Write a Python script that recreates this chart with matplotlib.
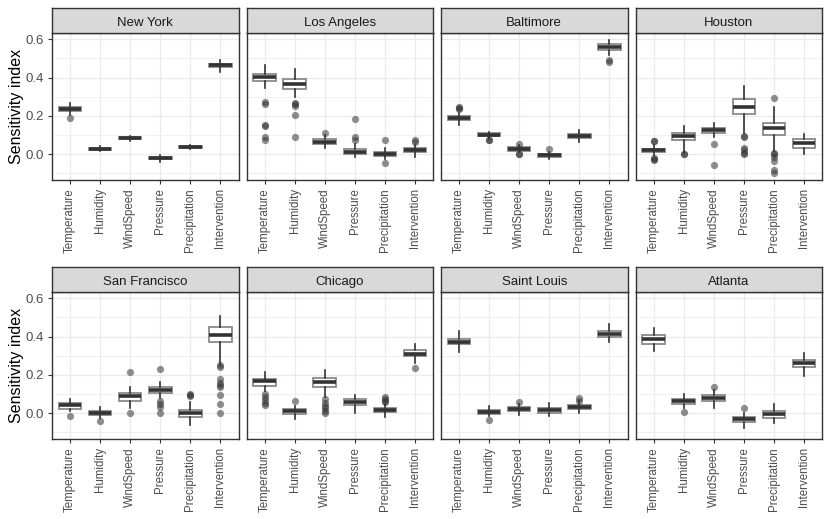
import matplotlib
matplotlib.use("Agg")
import matplotlib.pyplot as plt
from matplotlib.ticker import MultipleLocator, FuncFormatter

cities = ["New York", "Los Angeles", "Baltimore", "Houston",
          "San Francisco", "Chicago", "Saint Louis", "Atlanta"]
variables = ["Temperature", "Humidity", "WindSpeed", "Pressure",
             "Precipitation", "Intervention"]

med = [
    [0.235, 0.028, 0.082, -0.021, 0.036, 0.464],
    [0.405, 0.366, 0.065, 0.012, 0.002, 0.021],
    [0.188, 0.101, 0.028, -0.007, 0.096, 0.560],
    [0.019, 0.092, 0.124, 0.248, 0.134, 0.056],
    [0.042, 0.000, 0.087, 0.122, -0.002, 0.409],
    [0.166, 0.009, 0.161, 0.058, 0.017, 0.311],
    [0.373, 0.005, 0.021, 0.014, 0.031, 0.413],
    [0.385, 0.063, 0.080, -0.033, -0.007, 0.259],
]
q1 = [
    [0.225, 0.022, 0.077, -0.027, 0.031, 0.455],
    [0.384, 0.340, 0.050, 0.000, -0.009, 0.010],
    [0.178, 0.092, 0.017, -0.017, 0.085, 0.544],
    [0.009, 0.072, 0.112, 0.209, 0.099, 0.030],
    [0.023, -0.010, 0.063, 0.107, -0.019, 0.373],
    [0.142, -0.007, 0.138, 0.042, 0.007, 0.296],
    [0.359, -0.005, 0.010, 0.002, 0.021, 0.399],
    [0.359, 0.049, 0.063, -0.049, -0.026, 0.243],
]
q3 = [
    [0.245, 0.034, 0.087, -0.015, 0.041, 0.472],
    [0.420, 0.390, 0.077, 0.026, 0.012, 0.031],
    [0.199, 0.110, 0.038, 0.002, 0.105, 0.576],
    [0.028, 0.112, 0.134, 0.286, 0.160, 0.077],
    [0.054, 0.010, 0.107, 0.136, 0.017, 0.451],
    [0.180, 0.019, 0.185, 0.072, 0.028, 0.332],
    [0.387, 0.016, 0.031, 0.024, 0.042, 0.429],
    [0.408, 0.075, 0.094, -0.021, 0.010, 0.278],
]
whislo = [
    [0.204, 0.015, 0.070, -0.040, 0.025, 0.430],
    [0.344, 0.300, 0.030, -0.017, -0.028, -0.014],
    [0.152, 0.080, 0.008, -0.028, 0.061, 0.518],
    [-0.005, 0.003, 0.091, 0.108, 0.016, 0.000],
    [0.010, -0.025, 0.028, 0.077, -0.063, 0.250],
    [0.115, -0.030, 0.086, 0.002, -0.019, 0.264],
    [0.320, -0.016, -0.009, -0.016, 0.002, 0.369],
    [0.322, 0.028, 0.028, -0.080, -0.051, 0.191],
]
whishi = [
    [0.268, 0.040, 0.095, -0.005, 0.046, 0.490],
    [0.464, 0.445, 0.100, 0.052, 0.030, 0.045],
    [0.213, 0.117, 0.045, 0.010, 0.126, 0.597],
    [0.047, 0.147, 0.164, 0.356, 0.244, 0.103],
    [0.075, 0.033, 0.136, 0.164, 0.058, 0.509],
    [0.215, 0.037, 0.226, 0.093, 0.045, 0.360],
    [0.427, 0.037, 0.049, 0.051, 0.063, 0.464],
    [0.444, 0.100, 0.121, 0.002, 0.049, 0.313],
]
fliers = [
    [[0.187], [], [], [], [], []],
    [[0.274, 0.262, 0.150, 0.147, 0.087, 0.073],
     [0.269, 0.260, 0.250, 0.204, 0.090],
     [0.112], [0.183, 0.090, 0.073], [0.075, -0.049], [0.073, 0.065]],
    [[0.248, 0.240, 0.235], [0.073, 0.075], [0.052, -0.002, 0.000], [0.026], [], [0.492, 0.480]],
    [[0.068, 0.066, -0.019, -0.031, -0.027], [-0.002, -0.002], [0.054, -0.056],
     [0.096, 0.087, 0.031, 0.021, 0.003, 0.000],
     [0.291, 0.007, -0.002, -0.017, -0.037, -0.084, -0.101], []],
    [[-0.018], [-0.042], [0.212, 0.000],
     [0.229, 0.063, 0.045, 0.031, -0.002],
     [0.101, 0.089, 0.095],
     [0.241, 0.250, 0.177, 0.159, 0.145, 0.136, 0.094, 0.049, 0.000]],
    [[0.098, 0.086, 0.068, 0.054, 0.042], [0.063], [0.072, 0.051, 0.037, 0.024, 0.010, 0.002],
     [], [0.086, 0.072, 0.060, 0.065], [0.233]],
    [[], [-0.038], [0.059], [], [0.077, 0.065], []],
    [[], [0.003], [0.138], [0.026], [], []],
]

W, H = 830, 519
plt.rcParams['font.family'] = ['Liberation Sans', 'DejaVu Sans']
fig = plt.figure(figsize=(W / 100, H / 100), dpi=100)

col_left = [52, 246.5, 441, 635.5]
pw = 186.5
rows = [(33, 180, 8), (292, 439, 267)]  # plot top, plot bottom, strip top

grid_c = '#ebebeb'
border_c = '#333333'

for i, city in enumerate(cities):
    r, c = divmod(i, 4)
    top, bot, stop = rows[r]
    x0 = col_left[c]
    ax = fig.add_axes([x0 / W, 1 - bot / H, pw / W, (bot - top) / H])
    sax = fig.add_axes([x0 / W, 1 - top / H, pw / W, (top - stop) / H])
    sax.set_facecolor('#d9d9d9')
    sax.set_xticks([]); sax.set_yticks([])
    for sp in sax.spines.values():
        sp.set_color(border_c); sp.set_linewidth(1.0)
    sax.text(0.5, 0.45, city, ha='center', va='center_baseline', fontsize=9.5,
             color='#1a1a1a', transform=sax.transAxes)

    stats = []
    for j, v in enumerate(variables):
        stats.append(dict(med=med[i][j], q1=q1[i][j], q3=q3[i][j],
                          whislo=whislo[i][j], whishi=whishi[i][j],
                          fliers=fliers[i][j], label=v))
    ax.bxp(stats, positions=range(1, 7), widths=0.75, showcaps=False,
           patch_artist=True,
           boxprops=dict(facecolor='white', edgecolor='#8a8a8a', linewidth=1.3),
           medianprops=dict(color='#333333', linewidth=2.6, solid_capstyle='butt'),
           whiskerprops=dict(color='#333333', linewidth=1.2),
           flierprops=dict(marker='o', markerfacecolor='#333333', markeredgecolor='none',
                           alpha=0.55, markersize=5.2),
           zorder=3)
    ax.set_xlim(0.4, 6.6)
    ax.set_ylim(-0.136, 0.633)
    ax.yaxis.set_major_locator(MultipleLocator(0.2))
    ax.yaxis.set_minor_locator(MultipleLocator(0.1))
    ax.set_xticks(range(1, 7))
    ax.set_xticklabels(variables, rotation=90, fontsize=8.3, color='#4d4d4d')
    ax.grid(True, which='major', color=grid_c, linewidth=1.0, zorder=0)
    ax.grid(True, which='minor', axis='y', color=grid_c, linewidth=0.5, zorder=0)
    ax.set_axisbelow(True)
    ax.tick_params(axis='both', which='major', length=3.2, width=0.8, color='#333333',
                   pad=2.5)
    ax.tick_params(axis='y', which='minor', length=0)
    for sp in ax.spines.values():
        sp.set_color(border_c); sp.set_linewidth(1.0)
    if c == 0:
        ax.yaxis.set_major_formatter(FuncFormatter(lambda v, p: f"{v:.1f}"))
        for t in ax.get_yticklabels():
            t.set_fontsize(9.5); t.set_color('#4d4d4d')
        ax.set_ylabel("Sensitivity index", fontsize=11.5, color='black', labelpad=1.5)
    else:
        ax.tick_params(axis='y', which='both', left=False, labelleft=False)

fig.savefig("out.png", dpi=100)
